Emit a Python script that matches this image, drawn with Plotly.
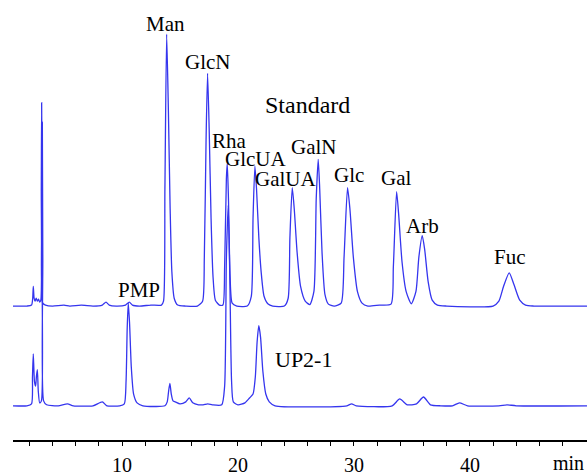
import plotly.graph_objects as go

# ---- data (time in min, signal in arbitrary units) ----
std_time = [0.6, 1.8, 2.2, 2.3, 2.35, 2.42, 2.5, 2.6, 2.7, 2.8, 2.9, 3.0, 3.04, 3.07, 3.11, 3.16, 3.4, 4.0,
            5.0, 5.5, 6.5, 7.5, 8.3, 8.62, 8.9, 9.5, 10.3, 10.63, 10.9, 11.5, 12.5, 13.4,
            13.58, 13.7, 13.85, 14.0, 14.15, 14.3, 14.5, 14.8, 15.5, 16.5,
            16.95, 17.1, 17.25, 17.38, 17.52, 17.68, 17.85, 18.05, 18.4,
            18.7, 18.85, 19.0, 19.08, 19.18, 19.32, 19.5, 19.9, 20.8,
            21.15, 21.3, 21.46, 21.6, 21.8, 22.0, 22.25, 22.6, 23.0, 24.0,
            24.33, 24.48, 24.68, 24.85, 25.1, 25.4, 25.8, 26.2,
            26.55, 26.75, 26.92, 27.05, 27.25, 27.5, 27.8, 28.3,
            28.9, 29.15, 29.45, 29.65, 29.95, 30.3, 30.7, 31.2, 32.2, 33.2,
            33.4, 33.68, 33.85, 34.15, 34.5, 34.95,
            35.35, 35.6, 35.89, 36.1, 36.4, 36.75, 37.2, 38.0, 42.0,
            42.5, 42.9, 43.39, 43.8, 44.3, 44.8, 45.5, 50.1]
std_signal = [0, 0, 1, 8, 20, 8, 5, 8, 5, 7, 4, 6, 120, 208, 120, 3, 1, 0,
              1, 0, 1, 0, 1, 4, 1, 0, 1, 4, 1, 0, 1, 1,
              5, 120, 278, 200, 100, 35, 8, 1, 0, 0,
              5, 50, 170, 238, 180, 90, 30, 6, 1,
              1, 40, 130, 146, 110, 30, 3, 0, 0,
              10, 90, 143, 120, 70, 35, 10, 2, 0, 0,
              8, 70, 121, 100, 55, 20, 5, 1.5,
              15, 110, 150, 120, 55, 12, 2, 0,
              3, 50, 121, 100, 50, 15, 3, 0, 1, 2,
              40, 117, 95, 45, 15, 2.3,
              15, 50, 72, 58, 25, 6, 1, 0, 0,
              5, 20, 34, 22, 6, 1, 0, 0]

up_time = [0.6, 1.8, 2.2, 2.28, 2.35, 2.45, 2.55, 2.62, 2.7, 2.78, 2.9, 3.05, 3.1, 3.13, 3.17, 3.24, 3.5,
           4.5, 5.3, 5.8, 7.5, 8.3, 8.7, 9.8,
           10.2, 10.35, 10.45, 10.54, 10.65, 10.8, 11.0, 11.3, 11.8, 13.7,
           13.9, 14.02, 14.13, 14.25, 14.4, 14.6, 15.0, 15.5, 15.8, 16.1, 16.6, 17.0, 17.4, 17.8, 18.6,
           18.85, 19.0, 19.16, 19.3, 19.45, 19.6, 20.0, 20.6, 21.0, 21.3,
           21.5, 21.65, 21.8, 21.95, 22.15, 22.4, 22.7, 23.2, 29.4, 29.8, 30.2,
           33.3, 33.95, 34.6, 35.4, 36.0, 36.6, 37.5, 38.5, 39.1, 39.8, 42.5, 43.2, 44.0, 50.1]
up_signal = [0, 0, 2, 30, 53, 25, 20, 30, 37, 15, 3, 5, 150, 290, 150, 5, 1,
             0, 2, 0, 0, 4, 0, 0,
             2, 25, 80, 105, 85, 40, 12, 3, 0, 0,
             4, 15, 23, 12, 5, 4, 2, 4, 8, 3, 1, 1, 2, 1, 1,
             20, 150, 205, 130, 25, 4, 1, 3, 8, 12,
             30, 65, 82, 70, 35, 12, 4, 0, 0, 2, 0,
             0, 7, 1, 2, 9, 1, 0, 0, 3, 0, 0, 1, 0, 0]

peak_labels = ["Man", "GlcN", "Rha", "GlcUA", "GalUA", "GalN", "Glc", "Gal", "Arb", "Fuc", "PMP"]
peak_label_time = [13.79, 17.41, 19.31, 21.55, 24.13, 26.55, 29.57, 33.62, 35.94, 43.45, 11.46]
peak_label_signal = [390, 352, 271, 252, 232, 265, 236, 233, 184, 152, 118]

tick_vals = list(range(2, 50, 2))
tick_text = [str(v) if v % 10 == 0 else "" for v in tick_vals]

STD_OFFSET = 102
LINE = "#3535ee"
FONT = "Times New Roman, Liberation Serif, serif"

fig = go.Figure()
fig.add_trace(go.Scatter(x=std_time, y=[v + STD_OFFSET for v in std_signal], mode="lines",
                         line=dict(color=LINE, width=1.3, shape="spline", smoothing=0.6),
                         hoverinfo="skip", showlegend=False))
fig.add_trace(go.Scatter(x=up_time, y=up_signal, mode="lines",
                         line=dict(color=LINE, width=1.3, shape="spline", smoothing=0.6),
                         hoverinfo="skip", showlegend=False))

annotations = []
for txt, t, s in zip(peak_labels, peak_label_time, peak_label_signal):
    annotations.append(dict(x=t, y=s, xref="x", yref="y", text=txt, showarrow=False,
                            font=dict(family=FONT, size=21, color="black"),
                            xanchor="center", yanchor="middle"))
annotations.append(dict(x=26.03, y=308, xref="x", yref="y", text="Standard", showarrow=False,
                        font=dict(family=FONT, size=24, color="black"), xanchor="center", yanchor="middle"))
annotations.append(dict(x=25.69, y=47, xref="x", yref="y", text="UP2-1", showarrow=False,
                        font=dict(family=FONT, size=22, color="black"), xanchor="center", yanchor="middle"))
annotations.append(dict(x=48.53, y=-0.053, xref="x", yref="paper", text="min", showarrow=False,
                        font=dict(family=FONT, size=20, color="black"), xanchor="center", yanchor="middle"))

fig.update_layout(
    width=587, height=476,
    margin=dict(l=13, r=0, t=0, b=26),
    paper_bgcolor="white", plot_bgcolor="white",
    annotations=annotations,
    xaxis=dict(range=[0.6, 50.1], showgrid=False, zeroline=False,
               showline=True, linecolor="black", linewidth=1.5,
               ticks="outside", ticklen=4, tickwidth=1, tickcolor="black",
               ticklabelstandoff=2,
               tickvals=tick_vals, ticktext=tick_text,
               tickfont=dict(family=FONT, size=20, color="black")),
    yaxis=dict(range=[-35, 415], visible=False),
)

fig.write_html("out.html")
